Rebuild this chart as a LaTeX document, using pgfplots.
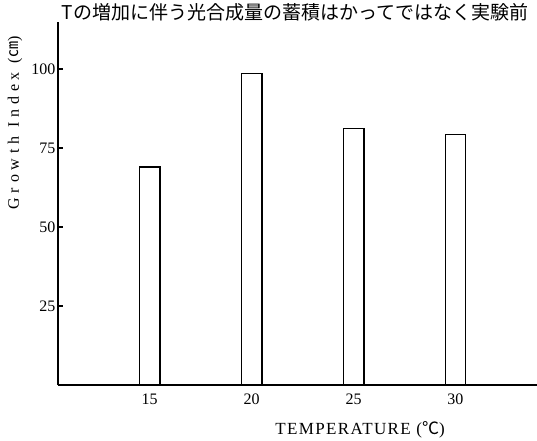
\documentclass[border=0pt]{standalone}
\usepackage{pgfplots}
\pgfplotsset{compat=1.18}
\usepackage{fontspec}
\setmainfont{Liberation Serif}
\newfontfamily\cjk{Noto Sans CJK JP}

\begin{document}
\begin{tikzpicture}[x=1pt,y=1pt]
\useasboundingbox (-58,-55) rectangle (479,385);
\begin{axis}[
    at={(0,0)}, anchor=south west,
    scale only axis,
    width=479pt, height=363pt,
    xmin=10.5, xmax=34,
    ymin=0, ymax=115,
    axis lines*=left,
    axis line style={line width=1.8pt},
    xtick={15,20,25,30},
    ytick={25,50,75,100},
    tick align=inside,
    major tick length=5pt,
    ytick style={line width=2pt, black},
    xtick style={draw=none},
    ticklabel style={font=\fontsize{16}{18}\selectfont},
    yticklabel style={xshift=1pt},
    /pgf/number format/assume math mode=true,
    ybar, bar width=1, bar shift=0pt,
]
\addplot[draw=black, line width=1.5pt, fill=white]
    coordinates {(15,69) (20,98.7) (25,81.3) (30,79.4)};
\end{axis}
\node[rotate=90] at (-43,262) {\fontsize{16}{18}\selectfont\addfontfeature{LetterSpace=30}Growth Index ({\cjk ㎝})};
\node at (302,-45) {\fontsize{17}{19}\selectfont\addfontfeature{LetterSpace=8}TEMPERATURE ({\cjk ℃})};
\node at (237,373) {\cjk\fontsize{19}{22}\selectfont Tの増加に伴う光合成量の蓄積はかってではなく実験前};
\end{tikzpicture}
\end{document}
